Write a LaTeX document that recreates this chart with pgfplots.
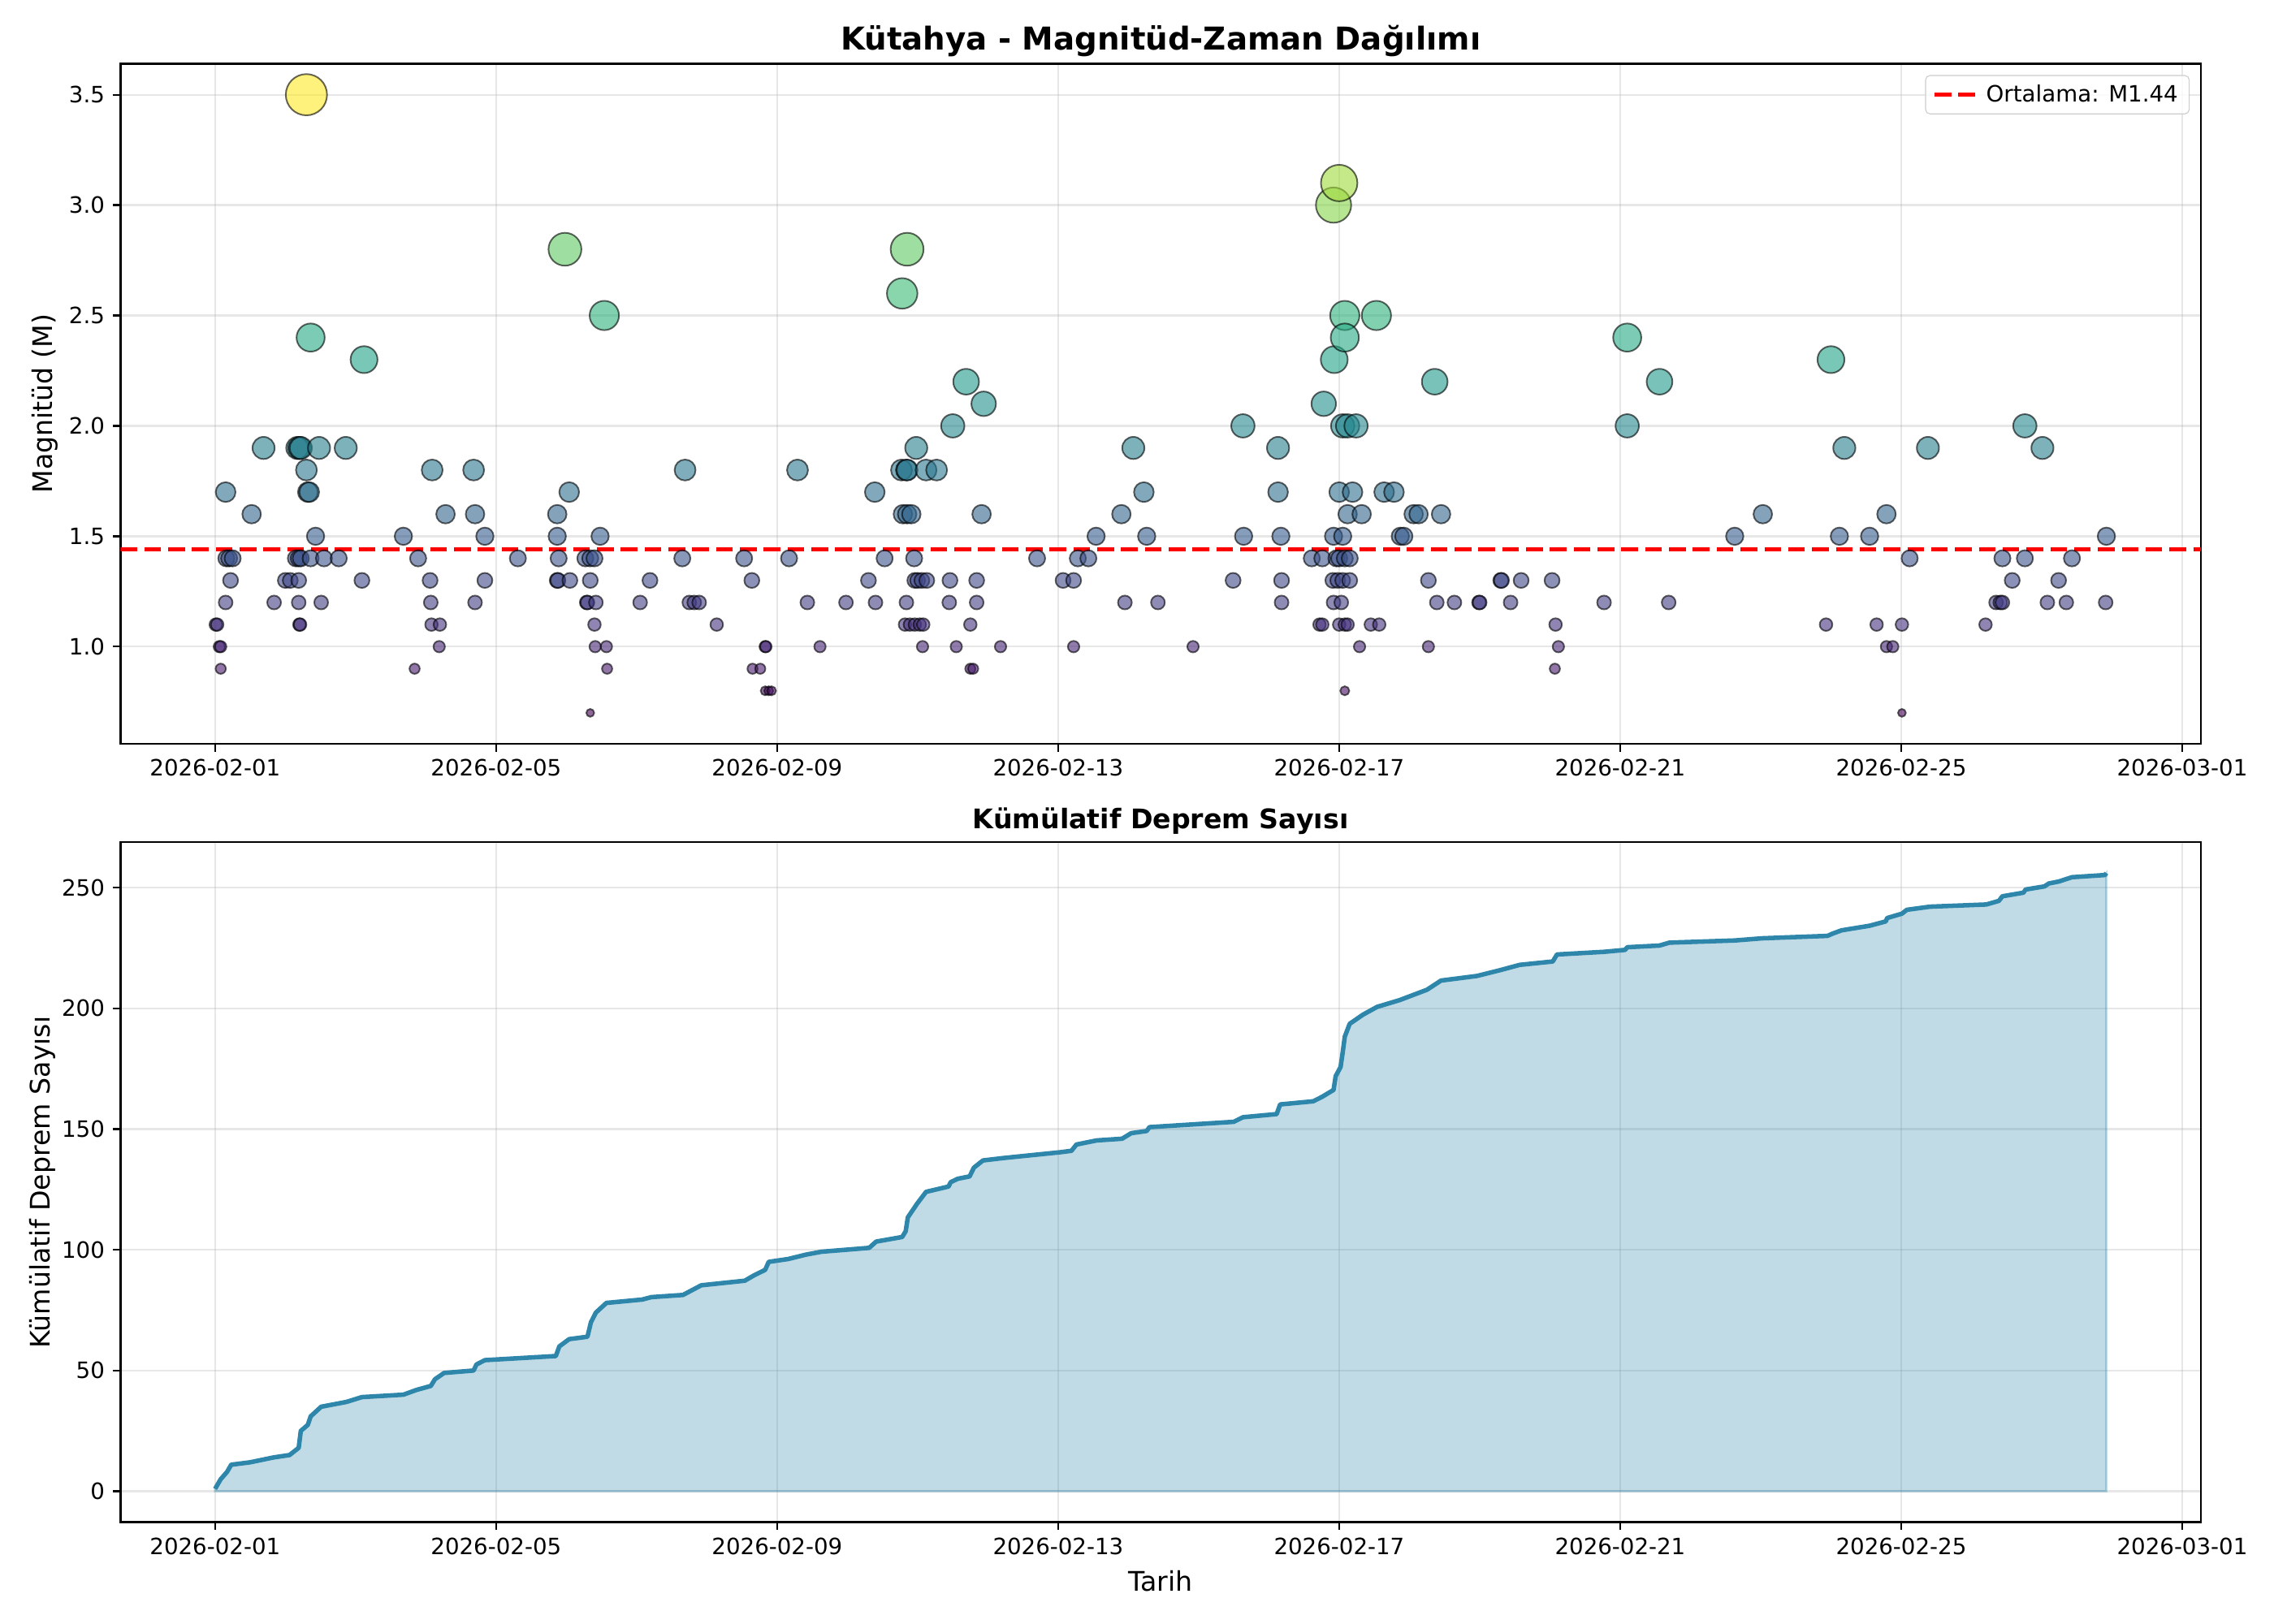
\documentclass[border=0pt]{standalone}
\usepackage{fontspec}
\setmainfont{DejaVu Sans}
\usepackage{pgfplots}
\pgfplotsset{compat=1.18}
\usepackage{pgfplotstable}
\definecolor{cumline}{RGB}{46,134,171}
\definecolor{gridc}{RGB}{176,176,176}

\pgfplotstableread{
d m
0.01 1.1
0.03 1.1
0.06 1.0
0.08 1.0
0.08 0.9
0.15 1.7
0.15 1.2
0.16 1.4
0.20 1.4
0.22 1.3
0.25 1.4
0.52 1.6
0.69 1.9
0.84 1.2
1.00 1.3
1.07 1.3
1.15 1.4
1.17 1.9
1.19 1.4
1.19 1.3
1.19 1.2
1.20 1.9
1.20 1.1
1.21 1.1
1.22 1.9
1.22 1.4
1.30 3.5
1.30 1.8
1.32 1.7
1.34 1.7
1.36 2.4
1.36 1.4
1.43 1.5
1.48 1.9
1.51 1.2
1.55 1.4
1.76 1.4
1.86 1.9
2.09 1.3
2.12 2.3
2.68 1.5
2.84 0.9
2.89 1.4
3.06 1.3
3.07 1.2
3.08 1.1
3.09 1.8
3.19 1.0
3.20 1.1
3.28 1.6
3.68 1.8
3.70 1.6
3.70 1.2
3.84 1.5
3.84 1.3
4.31 1.4
4.87 1.6
4.87 1.5
4.87 1.3
4.88 1.3
4.89 1.4
4.98 2.8
5.04 1.7
5.05 1.3
5.27 1.4
5.29 1.2
5.30 1.2
5.34 1.4
5.34 1.3
5.34 0.7
5.40 1.4
5.40 1.1
5.41 1.0
5.42 1.2
5.48 1.5
5.54 2.5
5.57 1.0
5.58 0.9
6.05 1.2
6.19 1.3
6.65 1.4
6.69 1.8
6.75 1.2
6.82 1.2
6.89 1.2
7.14 1.1
7.53 1.4
7.64 1.3
7.65 0.9
7.76 0.9
7.83 1.0
7.83 0.8
7.84 1.0
7.88 0.8
7.92 0.8
8.17 1.4
8.29 1.8
8.43 1.2
8.61 1.0
8.98 1.2
9.30 1.3
9.39 1.7
9.40 1.2
9.53 1.4
9.77 1.8
9.78 2.6
9.79 1.6
9.82 1.1
9.84 1.8
9.84 1.2
9.85 2.8
9.85 1.8
9.85 1.6
9.89 1.1
9.91 1.6
9.95 1.4
9.96 1.3
9.96 1.1
9.98 1.9
10.00 1.3
10.03 1.1
10.06 1.3
10.07 1.0
10.08 1.1
10.12 1.8
10.13 1.3
10.27 1.8
10.45 1.2
10.46 1.3
10.50 2.0
10.55 1.0
10.69 2.2
10.75 1.1
10.75 0.9
10.79 0.9
10.84 1.3
10.84 1.2
10.91 1.6
10.94 2.1
11.18 1.0
11.70 1.4
12.07 1.3
12.22 1.3
12.22 1.0
12.28 1.4
12.43 1.4
12.54 1.5
12.90 1.6
12.95 1.2
13.07 1.9
13.22 1.7
13.26 1.5
13.42 1.2
13.92 1.0
14.49 1.3
14.63 2.0
14.64 1.5
15.13 1.9
15.13 1.7
15.17 1.5
15.18 1.3
15.18 1.2
15.61 1.4
15.72 1.1
15.76 1.4
15.76 1.1
15.78 2.1
15.91 1.3
15.92 3.0
15.92 1.5
15.92 1.2
15.93 2.3
15.96 1.4
15.98 1.3
16.00 3.1
16.00 1.7
16.00 1.4
16.00 1.1
16.03 1.2
16.05 2.0
16.05 1.5
16.05 1.3
16.08 2.5
16.08 2.4
16.08 1.4
16.08 1.1
16.08 0.8
16.12 2.0
16.12 1.6
16.12 1.1
16.15 1.4
16.15 1.3
16.19 1.7
16.24 2.0
16.29 1.0
16.32 1.6
16.45 1.1
16.53 2.5
16.57 1.1
16.64 1.7
16.78 1.7
16.87 1.5
16.92 1.5
17.06 1.6
17.13 1.6
17.27 1.3
17.27 1.0
17.36 2.2
17.39 1.2
17.45 1.6
17.64 1.2
17.99 1.2
18.00 1.2
18.30 1.3
18.31 1.3
18.44 1.2
18.59 1.3
19.03 1.3
19.07 0.9
19.08 1.1
19.12 1.0
19.77 1.2
20.10 2.4
20.10 2.0
20.56 2.2
20.69 1.2
21.63 1.5
22.03 1.6
22.93 1.1
23.00 2.3
23.12 1.5
23.19 1.9
23.55 1.5
23.65 1.1
23.79 1.6
23.79 1.0
23.88 1.0
24.01 1.1
24.01 0.7
24.12 1.4
24.38 1.9
25.20 1.1
25.35 1.2
25.41 1.2
25.44 1.4
25.44 1.2
25.58 1.3
25.76 2.0
25.76 1.4
26.01 1.9
26.08 1.2
26.24 1.3
26.35 1.2
26.43 1.4
26.91 1.2
26.92 1.5
}\scatterdata

\pgfplotstableread{
d c
0 1
0.08 5
0.17 8
0.23 11
0.5 12
0.83 14
1.06 15
1.19 18
1.22 25
1.32 27.5
1.36 31
1.51 35
1.87 37
2.09 39
2.68 40
2.87 42
3.07 43.6
3.13 46.4
3.26 49
3.68 50
3.72 52.5
3.84 54.3
4.85 56
4.90 60
5.04 63
5.30 64
5.35 70
5.42 74
5.57 78
6.08 79.4
6.21 80.4
6.66 81.3
6.92 85.3
7.54 87.2
7.67 89.4
7.83 91.7
7.88 95
8.16 96.2
8.41 98
8.63 99.2
9.31 100.8
9.41 103.4
9.78 105.3
9.83 107.7
9.86 113.4
9.99 119
10.12 124
10.44 126.2
10.47 128
10.57 129.4
10.74 130.4
10.80 134
10.93 137
11.22 138
12.03 140.4
12.19 141
12.26 143.6
12.55 145.3
12.91 146
13.04 148.3
13.26 149.2
13.30 150.8
14.50 153
14.63 154.9
15.11 156.2
15.16 160.2
15.63 161.5
15.76 163.4
15.92 166.2
15.95 171.9
16.02 175.7
16.05 181.7
16.08 188.3
16.15 193.6
16.34 197.4
16.54 200.6
16.86 203.4
17.25 207.7
17.45 211.5
17.96 213.4
18.29 215.8
18.57 218
19.04 219.4
19.10 222.3
19.77 223.4
20.07 224.2
20.10 225.3
20.56 226
20.70 227.2
21.63 228.1
22.02 229
22.95 230
23.02 230.9
23.15 232.3
23.55 234.2
23.78 236
23.80 237.4
24.01 239.2
24.08 240.8
24.41 242.1
25.21 243
25.39 244.5
25.44 246.4
25.74 247.9
25.77 249.2
26.04 250.5
26.10 251.7
26.24 252.5
26.43 254.3
26.90 255.2
26.92 256
}\cumdata

\pgfplotsset{
  mystyle/.style={
    scale only axis,
    anchor=south west,
    width=12.808in, height=4.187in,
    xmin=-1.346, xmax=28.266,
    xtick={0,4,8,12,16,20,24,28},
    xticklabels={2026-02-01,2026-02-05,2026-02-09,2026-02-13,2026-02-17,2026-02-21,2026-02-25,2026-03-01},
    grid=major,
    grid style={line width=0.8pt, draw=gridc, draw opacity=0.3},
    axis line style={line width=0.8pt},
    tick style={line width=0.8pt, black},
    major tick length=3.5pt,
    tick align=outside,
    tick pos=left,
    tick label style={font=\fontsize{10}{12}\selectfont},
    label style={font=\fontsize{12}{14}\selectfont},
    /pgf/number format/assume math mode=true,
    title style={anchor=base, inner sep=0pt},
  }
}

\begin{document}
\begin{tikzpicture}
\path[use as bounding box] (0,0) rectangle (14in,10in);
\begin{axis}[mystyle,
  at={(0.742in,5.42in)},
  ymin=0.56, ymax=3.64,
  ytick={1,1.5,2,2.5,3,3.5},
  yticklabel style={/pgf/number format/fixed, /pgf/number format/fixed zerofill, /pgf/number format/precision=1},
  ylabel={Magnitüd (M)},
  ylabel shift=-2pt,
  title={Kütahya - Magnitüd-Zaman Dağılımı},
  title style={font=\bfseries\fontsize{14}{17}\selectfont},
  colormap/viridis,
  point meta min=0.7, point meta max=3.5,
  legend style={at={(1,1)}, anchor=north east, xshift=-5pt, yshift=-5pt,
    draw=black!20, rounded corners=2pt, fill=white, fill opacity=0.8, text opacity=1,
    font=\fontsize{10}{12}\selectfont, inner xsep=3pt, inner ysep=2pt},
  legend image code/.code={\draw[#1] (0pt,0pt) -- (20pt,0pt);},
]
\addplot[scatter, only marks, mark=*, forget plot,
  point meta=explicit,
  scatter/use mapped color={draw=black, fill=mapped color},
  mark options={fill opacity=0.6, draw opacity=0.6, line width=0.7pt},
  visualization depends on={2.65*\thisrow{m}-0.1 \as \ms},
  scatter/@pre marker code/.append style={/tikz/mark size=\ms},
] table[x=d, y=m, meta=m] {\scatterdata};
\addplot[color=red, line width=2pt, dash pattern=on 7.4pt off 3.2pt] coordinates {(-1.346,1.44) (28.266,1.44)};
\addlegendentry{Ortalama: M1.44}
\end{axis}

\begin{axis}[mystyle,
  at={(0.742in,0.627in)},
  ymin=-12.8, ymax=268.8,
  ytick={0,50,100,150,200,250},
  xlabel={Tarih},
  ylabel={Kümülatif Deprem Sayısı},
  ylabel shift=-4pt,
  title={Kümülatif Deprem Sayısı},
  title style={font=\bfseries\fontsize{12}{14}\selectfont},
]
\addplot[draw=cumline, draw opacity=0.3, fill=cumline, fill opacity=0.3, line width=1pt] table[x=d, y=c] {\cumdata} \closedcycle;
\addplot[color=cumline, line width=2pt, line join=round] table[x=d, y=c] {\cumdata};
\end{axis}
\end{tikzpicture}
\end{document}
